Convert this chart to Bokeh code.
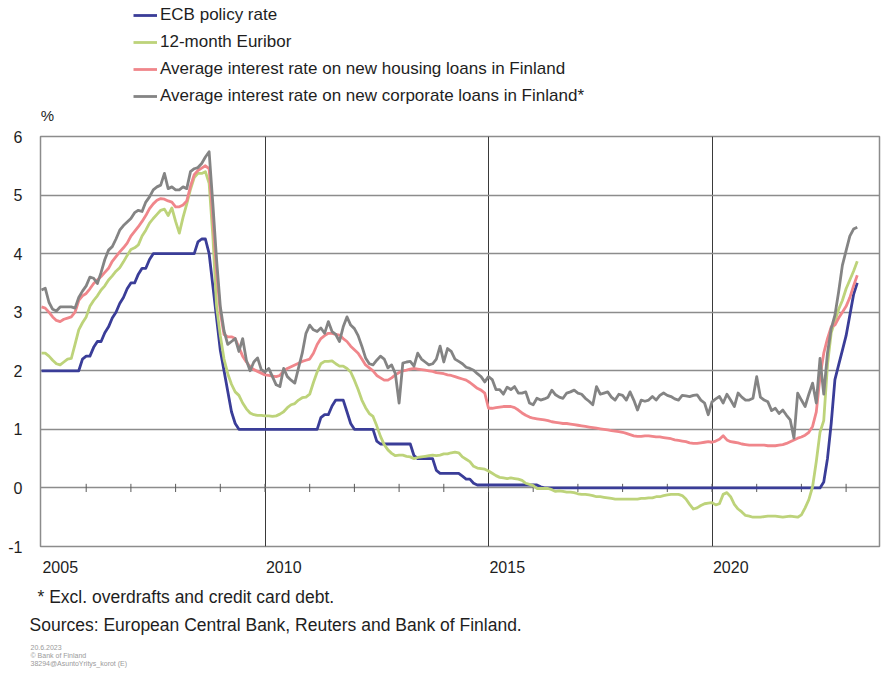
from bokeh.plotting import figure
from bokeh.layouts import column
from bokeh.models import Range1d, FixedTicker, Label, Legend, LegendItem, NumeralTickFormatter, PrintfTickFormatter
from bokeh.embed import file_html
from bokeh.resources import INLINE

# ---------------- data (monthly, Jan 2005 .. Apr 2023) ----------------
start_year = 2005
y_ticks = [-1, 0, 1, 2, 3, 4, 5, 6]
label_years = [2005, 2010, 2015, 2020]
grid_years = [2010, 2015, 2020]
tick_years = list(range(2006, 2024))

series_names = [
    "ECB policy rate",
    "12-month Euribor",
    "Average interest rate on new housing loans in Finland",
    "Average interest rate on new corporate loans in Finland*",
]

ecb = [
    2.0, 2.0, 2.0, 2.0, 2.0, 2.0, 2.0, 2.0, 2.0, 2.0, 2.0, 2.2,
    2.25, 2.25, 2.4, 2.5, 2.5, 2.65, 2.75, 2.9, 3.0, 3.15, 3.25, 3.4,
    3.5, 3.5, 3.65, 3.75, 3.75, 3.9, 4.0, 4.0, 4.0, 4.0, 4.0, 4.0,
    4.0, 4.0, 4.0, 4.0, 4.0, 4.0, 4.2, 4.25, 4.25, 4.0, 3.45, 2.9,
    2.35, 2.0, 1.65, 1.3, 1.1, 1.0, 1.0, 1.0, 1.0, 1.0, 1.0, 1.0,
    1.0, 1.0, 1.0, 1.0, 1.0, 1.0, 1.0, 1.0, 1.0, 1.0, 1.0, 1.0,
    1.0, 1.0, 1.0, 1.2, 1.25, 1.25, 1.4, 1.5, 1.5, 1.5, 1.3, 1.1,
    1.0, 1.0, 1.0, 1.0, 1.0, 1.0, 0.8, 0.75, 0.75, 0.75, 0.75, 0.75,
    0.75, 0.75, 0.75, 0.75, 0.55, 0.5, 0.5, 0.5, 0.5, 0.5, 0.3, 0.25,
    0.25, 0.25, 0.25, 0.25, 0.25, 0.2, 0.15, 0.15, 0.08, 0.05, 0.05, 0.05,
    0.05, 0.05, 0.05, 0.05, 0.05, 0.05, 0.05, 0.05, 0.05, 0.05, 0.05, 0.05,
    0.05, 0.05, 0.02, 0.0, 0.0, 0.0, 0.0, 0.0, 0.0, 0.0, 0.0, 0.0,
    0.0, 0.0, 0.0, 0.0, 0.0, 0.0, 0.0, 0.0, 0.0, 0.0, 0.0, 0.0,
    0.0, 0.0, 0.0, 0.0, 0.0, 0.0, 0.0, 0.0, 0.0, 0.0, 0.0, 0.0,
    0.0, 0.0, 0.0, 0.0, 0.0, 0.0, 0.0, 0.0, 0.0, 0.0, 0.0, 0.0,
    0.0, 0.0, 0.0, 0.0, 0.0, 0.0, 0.0, 0.0, 0.0, 0.0, 0.0, 0.0,
    0.0, 0.0, 0.0, 0.0, 0.0, 0.0, 0.0, 0.0, 0.0, 0.0, 0.0, 0.0,
    0.0, 0.0, 0.0, 0.0, 0.0, 0.0, 0.1, 0.5, 1.1, 1.85, 2.1, 2.35,
    2.6, 2.95, 3.3, 3.5,
]

euribor = [
    2.3, 2.3, 2.25, 2.18, 2.12, 2.1, 2.15, 2.2, 2.21, 2.45, 2.7, 2.82,
    2.92, 3.1, 3.2, 3.28, 3.38, 3.45, 3.55, 3.62, 3.7, 3.76, 3.86, 3.97,
    4.07, 4.1, 4.15, 4.3, 4.4, 4.52, 4.6, 4.67, 4.74, 4.76, 4.65, 4.78,
    4.55, 4.35, 4.62, 4.85, 5.1, 5.3, 5.37, 5.37, 5.4, 5.2, 4.3, 3.1,
    2.6, 2.2, 1.95, 1.77, 1.64, 1.58, 1.45, 1.35, 1.28, 1.25, 1.24, 1.24,
    1.23, 1.23, 1.22, 1.23, 1.26, 1.3, 1.37, 1.42, 1.44, 1.5, 1.54, 1.55,
    1.6, 1.8, 1.98, 2.12, 2.16, 2.16, 2.17, 2.12, 2.08, 2.08, 2.04, 1.98,
    1.84, 1.68, 1.5, 1.37, 1.27, 1.22, 1.06, 0.88, 0.74, 0.65, 0.59, 0.55,
    0.56, 0.56, 0.54, 0.53, 0.5, 0.52, 0.53, 0.54, 0.55, 0.56, 0.55, 0.56,
    0.58, 0.58, 0.6, 0.61, 0.6, 0.53, 0.49, 0.45, 0.37, 0.34, 0.33, 0.32,
    0.29, 0.25, 0.21, 0.18, 0.17, 0.16, 0.17, 0.16, 0.15, 0.13, 0.08, 0.06,
    0.04, -0.01, -0.01, -0.01, -0.01, -0.03, -0.06, -0.05, -0.06, -0.07, -0.07, -0.08,
    -0.1, -0.11, -0.11, -0.12, -0.13, -0.15, -0.15, -0.16, -0.17, -0.18, -0.19, -0.19,
    -0.19, -0.19, -0.19, -0.19, -0.19, -0.18, -0.18, -0.17, -0.17, -0.15, -0.15, -0.13,
    -0.12, -0.11, -0.11, -0.11, -0.13, -0.19, -0.28, -0.36, -0.34, -0.3, -0.27, -0.26,
    -0.25, -0.29, -0.27, -0.11, -0.08, -0.15, -0.28, -0.36, -0.41, -0.47, -0.48, -0.5,
    -0.5, -0.5, -0.49, -0.48, -0.48, -0.48, -0.49, -0.5, -0.49, -0.48, -0.49, -0.5,
    -0.46, -0.34, -0.2, 0.02, 0.45, 0.95, 1.15, 2.1, 2.65, 2.85, 3.05, 3.2,
    3.4, 3.55, 3.7, 3.87,
]

housing = [
    3.09, 3.07, 3.0, 2.92, 2.86, 2.84, 2.88, 2.9, 2.92, 3.0, 3.2, 3.28,
    3.32, 3.4, 3.49, 3.55, 3.61, 3.68, 3.75, 3.87, 3.95, 4.03, 4.1, 4.18,
    4.3, 4.38, 4.46, 4.55, 4.65, 4.77, 4.85, 4.91, 4.94, 4.93, 4.9, 4.88,
    4.8, 4.8, 4.83, 4.9, 5.15, 5.35, 5.42, 5.46, 5.5, 5.45, 4.6, 3.7,
    3.0, 2.62, 2.58, 2.58, 2.55, 2.4, 2.25, 2.15, 2.07, 2.02, 1.99, 1.96,
    1.93, 1.92, 1.91, 1.9, 1.92, 2.0, 2.04, 2.07, 2.1, 2.13, 2.16, 2.18,
    2.2, 2.3, 2.45, 2.55, 2.6, 2.64, 2.64, 2.62, 2.61, 2.55, 2.5, 2.42,
    2.36, 2.3, 2.2, 2.1, 2.05, 2.0, 1.92, 1.88, 1.84, 1.84, 1.88, 1.93,
    1.97, 2.0, 2.01, 2.03, 2.04, 2.03, 2.02, 2.01, 2.0, 1.99, 1.97, 1.96,
    1.95, 1.93, 1.92, 1.9, 1.88, 1.86, 1.84, 1.8, 1.75, 1.7, 1.67, 1.62,
    1.36, 1.36, 1.37, 1.38, 1.39, 1.39, 1.39, 1.37, 1.33, 1.28, 1.24, 1.21,
    1.19, 1.18, 1.17, 1.16, 1.15, 1.13, 1.12, 1.11, 1.1, 1.1, 1.09, 1.08,
    1.07, 1.06, 1.05, 1.04, 1.03, 1.02, 1.01, 1.0, 0.99, 0.98, 0.97, 0.96,
    0.95, 0.93, 0.91, 0.89, 0.88, 0.88, 0.89, 0.89, 0.88, 0.87, 0.87, 0.86,
    0.85, 0.84, 0.82, 0.81, 0.8, 0.79, 0.77, 0.76, 0.76, 0.77, 0.78, 0.79,
    0.78, 0.8, 0.83, 0.89, 0.82, 0.79, 0.78, 0.77, 0.75, 0.74, 0.73, 0.73,
    0.73, 0.73, 0.73, 0.72, 0.72, 0.72, 0.73, 0.74, 0.76, 0.79, 0.82, 0.85,
    0.87, 0.9, 0.95, 1.05, 1.3, 1.9, 2.3, 2.55, 2.75, 2.78, 2.9, 3.0,
    3.1, 3.25, 3.45, 3.63,
]

corporate = [
    3.38, 3.41, 3.17, 3.05, 3.02, 3.09, 3.09, 3.09, 3.09, 3.07, 3.25, 3.36,
    3.45, 3.6, 3.58, 3.49, 3.68, 3.9, 4.06, 4.12, 4.25, 4.4, 4.48, 4.54,
    4.6, 4.7, 4.74, 4.72, 4.88, 4.97, 5.09, 5.14, 5.17, 5.37, 5.11, 5.14,
    5.09, 5.09, 5.14, 5.11, 5.4, 5.45, 5.47, 5.54, 5.65, 5.74, 4.85, 3.9,
    3.1, 2.68, 2.45, 2.5, 2.55, 2.33, 2.55, 2.18, 2.0, 2.15, 2.22, 2.02,
    1.98, 2.04, 1.9, 1.76, 1.73, 2.04, 1.9, 1.84, 1.79, 2.05, 2.3, 2.64,
    2.78, 2.7, 2.67, 2.73, 2.64, 2.84, 2.67, 2.62, 2.5, 2.75, 2.92, 2.78,
    2.72, 2.6, 2.42, 2.22, 2.12, 2.1, 2.18, 2.25, 2.2, 2.05, 2.1, 1.95,
    1.45, 2.13, 2.15, 2.16, 2.08, 2.3, 2.2, 2.15, 2.1, 2.12, 2.2, 2.42,
    2.15, 2.38, 2.33, 2.2, 2.16, 2.12, 2.06, 2.04, 2.01, 1.95, 1.9, 1.81,
    1.9, 1.85, 1.68, 1.68, 1.6, 1.72, 1.68, 1.73, 1.62, 1.62, 1.64, 1.45,
    1.42, 1.53, 1.5, 1.52, 1.55, 1.67, 1.59, 1.55, 1.53, 1.62, 1.64, 1.67,
    1.62, 1.6, 1.53, 1.48, 1.42, 1.73, 1.6, 1.62, 1.64, 1.55, 1.5, 1.6,
    1.58, 1.5, 1.64, 1.5, 1.33, 1.5, 1.48, 1.5, 1.56, 1.5, 1.58, 1.62,
    1.58, 1.56, 1.52, 1.5, 1.58, 1.57, 1.56, 1.58, 1.59, 1.5, 1.45, 1.25,
    1.47, 1.52, 1.56, 1.45, 1.6, 1.5, 1.39, 1.62, 1.55, 1.5, 1.5, 1.53,
    1.9, 1.55, 1.5, 1.47, 1.32, 1.36, 1.27, 1.33, 1.24, 1.16, 0.85, 1.62,
    1.5, 1.39, 1.6, 1.79, 1.45, 2.21, 1.6, 2.3, 2.72, 2.95, 3.35, 3.8,
    4.05, 4.3, 4.42, 4.45,
]

unit_label = "%"
footnote = "* Excl. overdrafts and credit card debt."
sources = "Sources: European Central Bank, Reuters and Bank of Finland."
small_lines = ["20.6.2023", "\u00a9 Bank of Finland", "38294@AsuntoYritys_korot (E)"]

# ---------------- layout / style ----------------
FONT = "Liberation Sans"
TEXT = "#1e1e1e"
W = 885
TOP_H = 126            # header strip (legend, unit)
MAIN_TOP_BORDER = 10
FRAME_L, FRAME_W, FRAME_H = 40, 839, 410
MAIN_BOTTOM_BORDER = 40
MAIN_H = MAIN_TOP_BORDER + FRAME_H + MAIN_BOTTOM_BORDER
BOT_TOP = TOP_H + MAIN_H
BOT_H = 674 - BOT_TOP
PX_PER_YEAR = 44.7
X_START = start_year - 1.0 / PX_PER_YEAR
X_END = X_START + FRAME_W / PX_PER_YEAR
LINE_W = 2.8

colors = ["#3a3d98", "#bdd37a", "#f0868b", "#848484"]
months = [start_year + i / 12.0 for i in range(len(ecb))]


def strip(height, top):
    f = figure(width=W, height=height, x_range=Range1d(0, W), y_range=Range1d(top + height, top),
               x_axis_location=None, y_axis_location=None, min_border=0,
               min_border_left=0, min_border_right=0, min_border_top=0, min_border_bottom=0,
               frame_align=False,
               output_backend="svg", toolbar_location=None,
               background_fill_color="white", border_fill_color="white")
    f.outline_line_color = None
    f.grid.visible = False
    return f


# ---- header: legend and unit ----
head = strip(TOP_H, 0)
nan = float("nan")
swatches = [head.line(x=[nan, nan], y=[nan, nan], line_color=c, line_width=LINE_W) for c in colors]
legend = Legend(
    items=[LegendItem(label=n, renderers=[r]) for n, r in zip(series_names, swatches)],
    location=(133, 20),
    orientation="vertical",
    label_text_font=FONT, label_text_font_size="17px", label_text_color=TEXT,
    glyph_width=24, glyph_height=12, label_height=12, label_standoff=3,
    spacing=7, padding=0, margin=0,
    border_line_color=None, background_fill_alpha=0,
)
head.add_layout(legend, "center")
head.add_layout(Label(x=47, y=115, text=unit_label, text_font=FONT, text_font_size="15px",
                      text_align="center", text_baseline="middle", text_color=TEXT))

# ---- main chart ----
p = figure(
    frame_width=FRAME_W, frame_height=FRAME_H,
    min_border_left=FRAME_L, min_border_top=MAIN_TOP_BORDER,
    min_border_right=W - FRAME_L - FRAME_W, min_border_bottom=MAIN_BOTTOM_BORDER,
    frame_align=False,
    x_range=Range1d(X_START, X_END), y_range=Range1d(-1, 6),
    output_backend="svg", toolbar_location=None,
    background_fill_color="white", border_fill_color="white",
)
p.outline_line_color = "#8c8c8c"
p.outline_line_width = 1.5

p.ygrid.ticker = FixedTicker(ticks=y_ticks)
p.ygrid.grid_line_color = "#8c8c8c"
p.ygrid.grid_line_width = 1.5
p.xgrid.ticker = FixedTicker(ticks=grid_years)
p.xgrid.grid_line_color = "#3a3a3a"
p.xgrid.grid_line_width = 1

p.yaxis.ticker = FixedTicker(ticks=y_ticks)
p.yaxis.formatter = PrintfTickFormatter(format="%d")
p.yaxis.major_label_text_font = FONT
p.yaxis.major_label_text_font_size = "16px"
p.yaxis.major_label_text_color = TEXT
p.yaxis.major_label_standoff = 18
p.yaxis.major_tick_out = 0
p.yaxis.major_tick_in = 0
p.yaxis.minor_tick_out = 0
p.yaxis.minor_tick_in = 0
p.yaxis.axis_line_color = None

LABEL_OFFSET = 0.42
p.xaxis.ticker = FixedTicker(ticks=[y + LABEL_OFFSET for y in label_years])
p.xaxis.formatter = NumeralTickFormatter(format="0")
p.xaxis.major_label_text_font = FONT
p.xaxis.major_label_text_font_size = "16px"
p.xaxis.major_label_text_color = TEXT
p.xaxis.major_label_standoff = 14
p.xaxis.major_tick_out = 0
p.xaxis.major_tick_in = 0
p.xaxis.minor_tick_out = 0
p.xaxis.minor_tick_in = 0
p.xaxis.axis_line_color = None

p.segment(x0=tick_years, y0=[-0.07] * len(tick_years), x1=tick_years,
          y1=[0.07] * len(tick_years), line_color="#5a5a5a", line_width=1)

for vals, col in zip([ecb, euribor, housing, corporate], colors):
    p.line(months, vals, line_color=col, line_width=LINE_W, line_join="round")

# ---- footer: notes ----
foot = strip(BOT_H, BOT_TOP)
foot.add_layout(Label(x=37, y=596, text=footnote, text_font=FONT, text_font_size="17.5px",
                      text_align="left", text_baseline="middle", text_color=TEXT))
foot.add_layout(Label(x=29, y=624, text=sources, text_font=FONT, text_font_size="17.5px",
                      text_align="left", text_baseline="middle", text_color=TEXT))
for i, s in enumerate(small_lines):
    foot.add_layout(Label(x=30, y=647 + 8 * i, text=s, text_font=FONT, text_font_size="7px",
                          text_align="left", text_baseline="middle", text_color="#9a9a9a"))

layout = column(head, p, foot, spacing=0)
open("out.html", "w").write(file_html(layout, INLINE))
